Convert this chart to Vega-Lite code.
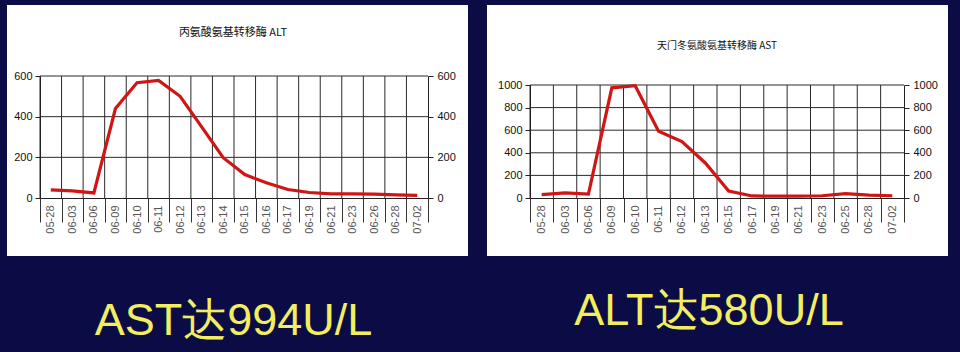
{
  "$schema": "https://vega.github.io/schema/vega-lite/v6.json",
  "background": "#0b0b45",
  "padding": 0,
  "bounds": "flush",
  "spacing": 102,
  "config": {
    "view": {"stroke": null},
    "axis": {"labelFont": "Liberation Sans", "zindex": 1}
  },
  "hconcat": [
    {
      "width": 388,
      "height": 122,
      "layer": [
        {
          "data": {"values": [{"title": "丙氨酸氨基转移酶 ALT", "caption": "AST达994U/L"}]},
          "layer": [
            {
              "mark": {"type": "rect", "color": "#0b0b45"},
              "encoding": {
                "x": {"datum": -40, "type": "quantitative", "scale": {"domain": [0, 388], "nice": false, "zero": false}, "axis": null},
                "x2": {"datum": 920},
                "y": {"datum": -76, "type": "quantitative", "scale": {"domain": [0, 122], "reverse": true, "nice": false, "zero": false}, "axis": null},
                "y2": {"datum": 276}
              }
            },
            {
              "mark": {"type": "rect", "color": "#ffffff"},
              "encoding": {
                "x": {"datum": -33, "type": "quantitative", "axis": null},
                "x2": {"datum": 428},
                "y": {"datum": -71, "type": "quantitative", "axis": null},
                "y2": {"datum": 180}
              }
            },
            {
              "mark": {"type": "text", "font": "Noto Sans CJK SC", "fontSize": 11, "color": "#111111", "align": "center", "baseline": "middle"},
              "encoding": {
                "x": {"datum": 193, "type": "quantitative", "axis": null},
                "y": {"datum": -43, "type": "quantitative", "axis": null},
                "text": {"field": "title"}
              }
            },
            {
              "mark": {"type": "text", "font": "Liberation Sans", "fontSize": 45, "color": "#f2ee60", "align": "center", "baseline": "alphabetic"},
              "encoding": {
                "x": {"datum": 193.5, "type": "quantitative", "axis": null},
                "y": {"datum": 259, "type": "quantitative", "axis": null},
                "text": {"field": "caption"}
              }
            }
          ]
        },
        {
          "data": {"values": [
            {"date": "05-28", "v": 40},
            {"date": "06-03", "v": 35},
            {"date": "06-06", "v": 25},
            {"date": "06-09", "v": 440},
            {"date": "06-10", "v": 567},
            {"date": "06-11", "v": 578},
            {"date": "06-12", "v": 500},
            {"date": "06-13", "v": 350},
            {"date": "06-14", "v": 198},
            {"date": "06-15", "v": 115},
            {"date": "06-16", "v": 75},
            {"date": "06-17", "v": 42},
            {"date": "06-19", "v": 27},
            {"date": "06-21", "v": 20},
            {"date": "06-23", "v": 20},
            {"date": "06-26", "v": 19},
            {"date": "06-28", "v": 15},
            {"date": "07-02", "v": 13}
          ]},
          "layer": [
            {
              "mark": {"type": "rule", "color": "#2a2a2a", "strokeWidth": 1},
              "encoding": {
                "x": {"field": "date", "type": "ordinal", "sort": null, "bandPosition": 0,
                  "scale": {"type": "band", "paddingInner": 0, "paddingOuter": 0},
                  "axis": {"title": null, "zindex": 2, "labelAngle": -90, "tickBand": "extent", "tickSize": 24, "labelPadding": -17, "grid": false, "domainColor": "#222222", "tickColor": "#333333", "labelFontSize": 11, "labelColor": "#555555", "labelOverlap": false}},
                "y": {"datum": 0, "type": "quantitative", "scale": {"domain": [0, 600], "nice": false},
                  "axis": {"title": null, "zindex": 2, "orient": "left", "values": [0, 200, 400, 600], "format": "d", "grid": false, "tickSize": 5, "labelPadding": 3, "labelFontSize": 11, "labelColor": "#111111", "domainColor": "#222222", "tickColor": "#222222", "labelFlush": false}},
                "y2": {"datum": 600}
              }
            },
            {
              "data": {"values": [{}]},
              "mark": {"type": "rule", "color": "#2a2a2a", "strokeWidth": 1},
              "encoding": {"y": {"datum": 200, "type": "quantitative", "axis": null}}
            },
            {
              "data": {"values": [{}]},
              "mark": {"type": "rule", "color": "#2a2a2a", "strokeWidth": 1},
              "encoding": {"y": {"datum": 400, "type": "quantitative", "axis": null}}
            },
            {
              "data": {"values": [{}]},
              "mark": {"type": "rule", "color": "#2a2a2a", "strokeWidth": 1},
              "encoding": {"y": {"datum": 600, "type": "quantitative", "axis": null}}
            },
            {
              "mark": {"type": "line", "color": "#d01515", "strokeWidth": 3.2},
              "encoding": {
                "x": {"field": "date", "type": "ordinal", "sort": null, "bandPosition": 0.5},
                "y": {"field": "v", "type": "quantitative", "axis": null}
              }
            },
            {
              "mark": {"type": "line", "opacity": 0},
              "encoding": {
                "x": {"field": "date", "type": "ordinal", "sort": null, "bandPosition": 0.5},
                "y": {"field": "v", "type": "quantitative",
                  "axis": {"title": null, "zindex": 2, "orient": "right", "values": [0, 200, 400, 600], "format": "d", "grid": false, "tickSize": 5, "labelPadding": 4, "labelFontSize": 11, "labelColor": "#111111", "domainColor": "#222222", "tickColor": "#222222", "labelFlush": false}}
              }
            }
          ],
          "resolve": {"axis": {"y": "independent"}}
        }
      ],
      "resolve": {"scale": {"x": "independent", "y": "independent"}}
    },
    {
      "width": 374,
      "height": 122,
      "layer": [
        {
          "data": {"values": [{"title": "天门冬氨酸氨基转移酶 AST", "caption": "ALT达580U/L"}]},
          "layer": [
            {
              "mark": {"type": "rect", "color": "#ffffff"},
              "encoding": {
                "x": {"datum": -43, "type": "quantitative", "scale": {"domain": [0, 374], "nice": false, "zero": false}, "axis": null},
                "x2": {"datum": 418},
                "y": {"datum": -71, "type": "quantitative", "scale": {"domain": [0, 122], "reverse": true, "nice": false, "zero": false}, "axis": null},
                "y2": {"datum": 180}
              }
            },
            {
              "mark": {"type": "text", "font": "Noto Sans CJK SC", "fontSize": 10, "color": "#111111", "align": "center", "baseline": "middle"},
              "encoding": {
                "x": {"datum": 187, "type": "quantitative", "axis": null},
                "y": {"datum": -30, "type": "quantitative", "axis": null},
                "text": {"field": "title"}
              }
            },
            {
              "mark": {"type": "text", "font": "Liberation Sans", "fontSize": 45, "color": "#f2ee60", "align": "center", "baseline": "alphabetic"},
              "encoding": {
                "x": {"datum": 179, "type": "quantitative", "axis": null},
                "y": {"datum": 249, "type": "quantitative", "axis": null},
                "text": {"field": "caption"}
              }
            }
          ]
        },
        {
          "data": {"values": [
            {"date": "05-28", "v": 30},
            {"date": "06-03", "v": 45},
            {"date": "06-06", "v": 35},
            {"date": "06-09", "v": 975},
            {"date": "06-10", "v": 994},
            {"date": "06-11", "v": 590},
            {"date": "06-12", "v": 500},
            {"date": "06-13", "v": 310},
            {"date": "06-15", "v": 62},
            {"date": "06-17", "v": 18},
            {"date": "06-19", "v": 16},
            {"date": "06-21", "v": 16},
            {"date": "06-23", "v": 20},
            {"date": "06-25", "v": 38},
            {"date": "06-28", "v": 25},
            {"date": "07-02", "v": 20}
          ]},
          "layer": [
            {
              "mark": {"type": "rule", "color": "#2a2a2a", "strokeWidth": 1},
              "encoding": {
                "x": {"field": "date", "type": "ordinal", "sort": null, "bandPosition": 0,
                  "scale": {"type": "band", "paddingInner": 0, "paddingOuter": 0},
                  "axis": {"title": null, "zindex": 2, "labelAngle": -90, "tickBand": "extent", "tickSize": 24, "labelPadding": -17, "grid": false, "domainColor": "#222222", "tickColor": "#333333", "labelFontSize": 11, "labelColor": "#555555", "labelOverlap": false}},
                "y": {"datum": 0, "type": "quantitative", "scale": {"domain": [0, 1000], "range": [122, 9], "nice": false},
                  "axis": {"title": null, "zindex": 2, "orient": "left", "values": [0, 200, 400, 600, 800, 1000], "format": "d", "grid": false, "tickSize": 5, "labelPadding": 3, "labelFontSize": 11, "labelColor": "#111111", "domainColor": "#222222", "tickColor": "#222222", "labelFlush": false}},
                "y2": {"datum": 1000}
              }
            },
            {
              "data": {"values": [{}]},
              "mark": {"type": "rule", "color": "#2a2a2a", "strokeWidth": 1},
              "encoding": {"y": {"datum": 200, "type": "quantitative", "axis": null}}
            },
            {
              "data": {"values": [{}]},
              "mark": {"type": "rule", "color": "#2a2a2a", "strokeWidth": 1},
              "encoding": {"y": {"datum": 400, "type": "quantitative", "axis": null}}
            },
            {
              "data": {"values": [{}]},
              "mark": {"type": "rule", "color": "#2a2a2a", "strokeWidth": 1},
              "encoding": {"y": {"datum": 600, "type": "quantitative", "axis": null}}
            },
            {
              "data": {"values": [{}]},
              "mark": {"type": "rule", "color": "#2a2a2a", "strokeWidth": 1},
              "encoding": {"y": {"datum": 800, "type": "quantitative", "axis": null}}
            },
            {
              "data": {"values": [{}]},
              "mark": {"type": "rule", "color": "#2a2a2a", "strokeWidth": 1},
              "encoding": {"y": {"datum": 1000, "type": "quantitative", "axis": null}}
            },
            {
              "mark": {"type": "line", "color": "#d01515", "strokeWidth": 3.2},
              "encoding": {
                "x": {"field": "date", "type": "ordinal", "sort": null, "bandPosition": 0.5},
                "y": {"field": "v", "type": "quantitative", "axis": null}
              }
            },
            {
              "mark": {"type": "line", "opacity": 0},
              "encoding": {
                "x": {"field": "date", "type": "ordinal", "sort": null, "bandPosition": 0.5},
                "y": {"field": "v", "type": "quantitative",
                  "axis": {"title": null, "zindex": 2, "orient": "right", "values": [0, 200, 400, 600, 800, 1000], "format": "d", "grid": false, "tickSize": 5, "labelPadding": 4, "labelFontSize": 11, "labelColor": "#111111", "domainColor": "#222222", "tickColor": "#222222", "labelFlush": false}}
              }
            }
          ],
          "resolve": {"axis": {"y": "independent"}}
        }
      ],
      "resolve": {"scale": {"x": "independent", "y": "independent"}}
    }
  ]
}
